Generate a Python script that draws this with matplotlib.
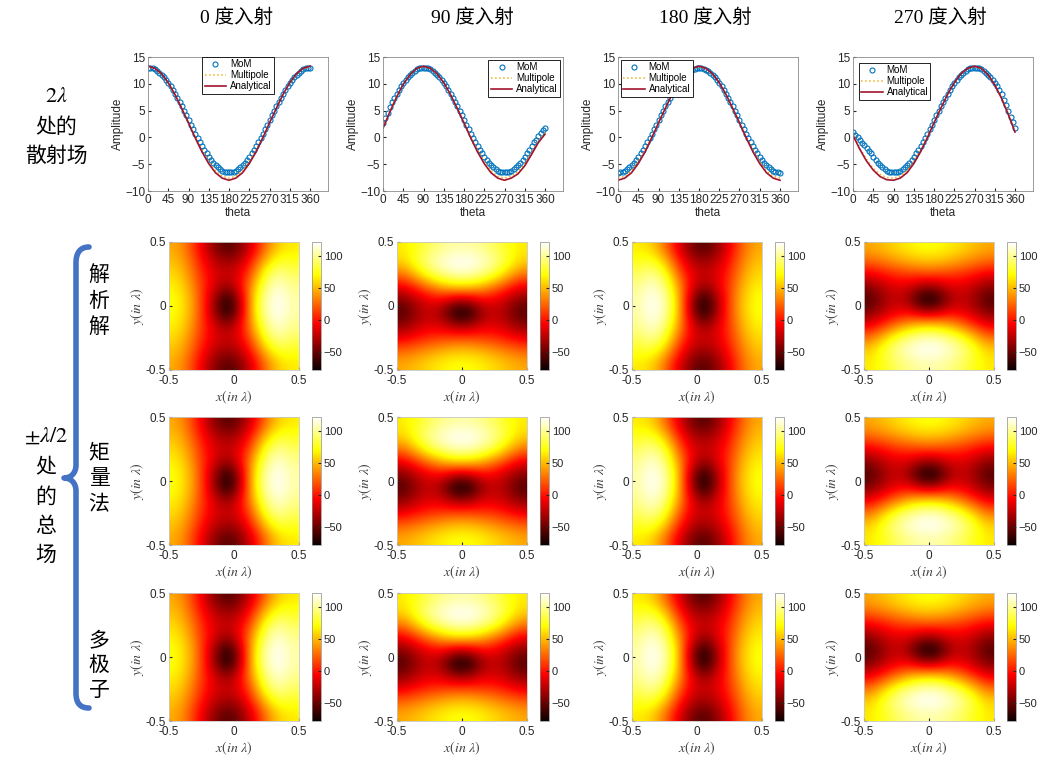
import numpy as np
import matplotlib
matplotlib.use("Agg")
import matplotlib.pyplot as plt
from matplotlib.path import Path
from matplotlib.patches import PathPatch

plt.rcParams["font.family"] = ["Liberation Sans", "Noto Sans CJK SC"]
plt.rcParams["mathtext.fontset"] = "stix"

# ---------------- data ----------------
INCIDENCE = ["0", "90", "180", "270"]
ROW_NAMES = ["解析解", "矩量法", "多极子"]

THETA_MOM = np.arange(0, 361, 5)
THETA_LINE = np.arange(0, 361, 15)

MOM_0 = [13.0, 13.0, 12.9, 12.7, 12.4, 12.1, 11.7, 11.2, 10.7, 10.1, 9.5, 8.8, 8.1, 7.4, 6.6, 5.8, 4.9, 4.1, 3.2,
         2.4, 1.6, 0.7, -0.1, -0.9, -1.6, -2.3, -3.0, -3.6, -4.2, -4.7, -5.2, -5.6, -5.9, -6.2, -6.4, -6.5, -6.5,
         -6.5, -6.4, -6.2, -5.9, -5.6, -5.2, -4.7, -4.2, -3.6, -3.0, -2.3, -1.6, -0.9, -0.1, 0.7, 1.6, 2.4, 3.2,
         4.1, 4.9, 5.8, 6.6, 7.4, 8.1, 8.8, 9.5, 10.1, 10.7, 11.2, 11.7, 12.1, 12.4, 12.7, 12.9, 13.0, 13.0]
MOM_90 = [2.6, 3.6, 4.6, 5.6, 6.6, 7.4, 8.1, 8.8, 9.5, 10.1, 10.7, 11.2, 11.7, 12.1, 12.4, 12.7, 12.9, 13.0, 13.0,
          13.0, 12.9, 12.7, 12.4, 12.1, 11.7, 11.2, 10.7, 10.1, 9.5, 8.8, 8.1, 7.4, 6.6, 5.8, 4.9, 4.1, 3.2,
          2.4, 1.6, 0.7, -0.1, -0.9, -1.6, -2.3, -3.0, -3.6, -4.2, -4.7, -5.2, -5.6, -5.9, -6.2, -6.4, -6.5, -6.5,
          -6.5, -6.4, -6.2, -5.9, -5.6, -5.2, -4.7, -4.2, -3.6, -3.0, -2.3, -1.6, -0.9, -0.4, 0.2, 0.8, 1.3, 1.8]
MOM_180 = [-6.6, -6.5, -6.4, -6.2, -5.9, -5.6, -5.2, -4.7, -4.2, -3.6, -3.0, -2.3, -1.6, -0.9, -0.1, 0.7, 1.6, 2.4,
           3.2, 4.1, 4.9, 5.8, 6.6, 7.4, 8.1, 8.8, 9.5, 10.1, 10.7, 11.2, 11.7, 12.1, 12.4, 12.6, 12.8, 12.9, 12.9,
           12.9, 12.8, 12.6, 12.4, 12.1, 11.7, 11.2, 10.7, 10.1, 9.5, 8.8, 8.1, 7.4, 6.6, 5.8, 4.9, 4.1, 3.2,
           2.4, 1.6, 0.7, -0.1, -0.9, -1.6, -2.3, -3.0, -3.6, -4.2, -4.7, -5.2, -5.6, -5.9, -6.2, -6.4, -6.5, -6.6]
MOM_270 = [1.0, 0.5, 0.0, -0.5, -1.0, -1.5, -2.0, -2.5, -3.0, -3.6, -4.2, -4.7, -5.2, -5.6, -5.9, -6.2, -6.4, -6.5,
           -6.5, -6.5, -6.4, -6.2, -5.9, -5.6, -5.2, -4.7, -4.2, -3.6, -3.0, -2.3, -1.6, -0.9, -0.1, 0.7, 1.6, 2.4,
           3.2, 4.1, 4.9, 5.8, 6.6, 7.4, 8.1, 8.8, 9.5, 10.1, 10.7, 11.2, 11.7, 12.1, 12.4, 12.7, 12.9, 13.0, 13.0,
           13.0, 12.9, 12.7, 12.4, 12.1, 11.7, 11.2, 10.7, 10.1, 9.5, 8.8, 8.1, 7.0, 6.0, 4.9, 3.8, 2.8, 1.8]

ANA_0 = [13.3, 12.9, 11.9, 10.2, 8.0, 5.4, 2.7, -0.1, -2.7, -4.9, -6.6, -7.6, -8.0,
         -7.6, -6.6, -4.9, -2.7, -0.1, 2.7, 5.4, 8.0, 10.2, 11.9, 12.9, 13.3]
ANA_90 = [1.7, 4.7, 7.5, 9.9, 11.7, 12.9, 13.3, 12.9, 11.9, 10.2, 8.0, 5.4, 2.7,
          -0.1, -2.7, -4.9, -6.6, -7.6, -8.0, -7.6, -6.8, -5.3, -3.2, -1.0, 0.6]
ANA_180 = [-8.0, -7.6, -6.6, -4.9, -2.7, -0.1, 2.7, 5.4, 8.0, 10.2, 11.9, 12.9, 13.3,
           12.9, 11.9, 10.2, 8.0, 5.4, 2.7, -0.1, -2.7, -4.9, -6.6, -7.6, -8.0]
ANA_270 = [0.4, -2.2, -4.4, -6.1, -7.3, -7.9, -8.0, -7.6, -6.6, -4.9, -2.7, -0.1, 2.7,
           5.4, 8.0, 10.2, 11.9, 12.9, 13.3, 12.9, 11.7, 9.8, 7.3, 4.3, 1.0]

MULTI_0 = [13.2, 12.85, 11.8, 10.15, 8.0, 5.5, 2.8, 0.1, -2.4, -4.55, -6.2, -7.25, -7.6,
           -7.25, -6.2, -4.55, -2.4, 0.1, 2.8, 5.5, 8.0, 10.15, 11.8, 12.85, 13.2]
MULTI_90 = [1.9, 4.8, 7.6, 9.9, 11.7, 12.85, 13.2, 12.85, 11.8, 10.15, 8.0, 5.5, 2.8,
            0.1, -2.4, -4.55, -6.2, -7.25, -7.6, -7.25, -6.4, -4.9, -2.9, -0.7, 0.9]
MULTI_180 = [-7.6, -7.25, -6.2, -4.55, -2.4, 0.1, 2.8, 5.5, 8.0, 10.15, 11.8, 12.85, 13.2,
             12.85, 11.8, 10.15, 8.0, 5.5, 2.8, 0.1, -2.4, -4.55, -6.2, -7.25, -7.6]
MULTI_270 = [0.6, -2.0, -4.1, -5.8, -6.9, -7.5, -7.6, -7.25, -6.2, -4.55, -2.4, 0.1, 2.8,
             5.5, 8.0, 10.15, 11.8, 12.85, 13.2, 12.85, 11.6, 9.8, 7.4, 4.5, 1.3]

MOM = [MOM_0, MOM_90, MOM_180, MOM_270]
ANA = [ANA_0, ANA_90, ANA_180, ANA_270]
MULTI = [MULTI_0, MULTI_90, MULTI_180, MULTI_270]

# total field on a 10x10 cell grid, rows y=+0.45 -> -0.45, cols x=-0.45 -> +0.45
FIELD_0 = [
    [45, 25, -10, -40, -58, -42, -10, 30, 58, 65],
    [52, 32, 0, -25, -35, -25, 10, 55, 80, 75],
    [60, 40, 8, -15, -22, -10, 30, 82, 100, 88],
    [67, 48, 12, -18, -38, -8, 48, 98, 113, 98],
    [72, 53, 15, -35, -78, -25, 58, 108, 120, 103],
    [72, 53, 15, -35, -78, -25, 58, 108, 120, 103],
    [67, 48, 12, -18, -38, -8, 48, 98, 113, 98],
    [60, 40, 8, -15, -22, -10, 30, 82, 100, 88],
    [52, 32, 0, -25, -35, -25, 10, 55, 80, 75],
    [45, 25, -10, -40, -58, -42, -10, 30, 58, 65],
]
FIELD_90 = [
    [65, 75, 88, 98, 103, 103, 98, 88, 75, 65],
    [58, 80, 100, 113, 120, 120, 113, 100, 80, 58],
    [30, 55, 82, 98, 108, 108, 98, 82, 55, 30],
    [-10, 10, 30, 48, 58, 58, 48, 30, 10, -10],
    [-42, -25, -10, -8, -25, -25, -8, -10, -25, -42],
    [-58, -35, -22, -38, -78, -78, -38, -22, -35, -58],
    [-40, -25, -15, -18, -35, -35, -18, -15, -25, -40],
    [-10, 0, 8, 12, 15, 15, 12, 8, 0, -10],
    [25, 32, 40, 48, 53, 53, 48, 40, 32, 25],
    [45, 52, 60, 67, 72, 72, 67, 60, 52, 45],
]
FIELD_180 = [
    [65, 58, 30, -10, -42, -58, -40, -10, 25, 45],
    [75, 80, 55, 10, -25, -35, -25, 0, 32, 52],
    [88, 100, 82, 30, -10, -22, -15, 8, 40, 60],
    [98, 113, 98, 48, -8, -38, -18, 12, 48, 67],
    [103, 120, 108, 58, -25, -78, -35, 15, 53, 72],
    [103, 120, 108, 58, -25, -78, -35, 15, 53, 72],
    [98, 113, 98, 48, -8, -38, -18, 12, 48, 67],
    [88, 100, 82, 30, -10, -22, -15, 8, 40, 60],
    [75, 80, 55, 10, -25, -35, -25, 0, 32, 52],
    [65, 58, 30, -10, -42, -58, -40, -10, 25, 45],
]
FIELD_270 = [
    [45, 52, 60, 67, 72, 72, 67, 60, 52, 45],
    [25, 32, 40, 48, 53, 53, 48, 40, 32, 25],
    [-10, 0, 8, 12, 15, 15, 12, 8, 0, -10],
    [-40, -25, -15, -18, -35, -35, -18, -15, -25, -40],
    [-58, -35, -22, -38, -78, -78, -38, -22, -35, -58],
    [-42, -25, -10, -8, -25, -25, -8, -10, -25, -42],
    [-10, 10, 30, 48, 58, 58, 48, 30, 10, -10],
    [30, 55, 82, 98, 108, 108, 98, 82, 55, 30],
    [58, 80, 100, 113, 120, 120, 113, 100, 80, 58],
    [65, 75, 88, 98, 103, 103, 98, 88, 75, 65],
]
FIELDS = [FIELD_0, FIELD_90, FIELD_180, FIELD_270]

# ---------------- layout (pixels) ----------------
W, H = 1040, 764
LINE_LEFT = [148, 383, 618, 853]
LINE_TOP, LINE_BOT, LINE_W = 57, 191, 180
MAP_LEFT = [169, 397, 632, 864]
MAP_TOP = [242, 417, 593]
MAP_W, MAP_H = 130, 128
LEGEND_LOC = [("upper center", (0.5, 1.0), 0.0), ("upper right", (1.0, 1.0), 0.3),
              ("upper left", (0.0, 1.0), 0.3), ("upper left", (0.0, 1.0), 0.6)]


def px(left, top, w, h):
    return [left / W, 1 - (top + h) / H, w / W, h / H]


fig = plt.figure(figsize=(W / 100, H / 100), dpi=100)
GRAY = "#8c8c8c"
TXT = "#262626"

for c in range(4):
    ax = fig.add_axes(px(LINE_LEFT[c], LINE_TOP, LINE_W, LINE_BOT - LINE_TOP))
    ax.plot(THETA_MOM, MOM[c], "o", mfc="none", mec="#0072BD", ms=3.6, mew=0.8, label="MoM")
    ax.plot(THETA_LINE, MULTI[c], ":", color="#EDB120", lw=1.1, label="Multipole")
    ax.plot(THETA_LINE, ANA[c], "-", color="#A2142F", lw=1.2, label="Analytical")
    ax.set_xlim(0, 400)
    ax.set_ylim(-10, 15)
    ax.set_xticks(np.arange(0, 361, 45))
    ax.set_yticks([-10, -5, 0, 5, 10, 15])
    ax.tick_params(direction="in", length=2.5, labelsize=8.5, colors=TXT, pad=2)
    for s in ax.spines.values():
        s.set_color(GRAY)
        s.set_linewidth(0.6)
    ax.set_xlabel("theta", fontsize=8.5, color=TXT, labelpad=1)
    ax.set_ylabel("Amplitude", fontsize=8.5, color=TXT, labelpad=1)
    loc, anchor, pad = LEGEND_LOC[c]
    leg = ax.legend(loc=loc, bbox_to_anchor=anchor, borderaxespad=pad, fontsize=7,
                    fancybox=False, edgecolor="black", framealpha=1, handlelength=2.2,
                    labelspacing=0.1, borderpad=0.25, handletextpad=0.4)
    leg.get_frame().set_linewidth(0.6)

for r in range(3):
    for c in range(4):
        ax = fig.add_axes(px(MAP_LEFT[c], MAP_TOP[r], MAP_W, MAP_H))
        im = ax.imshow(np.array(FIELDS[c], dtype=float), cmap="hot", vmin=-78, vmax=121,
                       extent=[-0.5, 0.5, -0.5, 0.5], origin="upper", aspect="auto",
                       interpolation="bicubic")
        ax.set_xticks([-0.5, 0, 0.5])
        ax.set_yticks([-0.5, 0, 0.5])
        ax.set_xticklabels(["-0.5", "0", "0.5"])
        ax.set_yticklabels(["-0.5", "0", "0.5"])
        ax.tick_params(direction="in", length=2, labelsize=8.5, colors=TXT)
        ax.tick_params(axis="x", pad=3.5)
        ax.tick_params(axis="y", pad=2)
        for s in ax.spines.values():
            s.set_color("#c8c8c8")
            s.set_linewidth(0.6)
        ax.set_xlabel(r"$x(in\ \lambda)$", fontsize=10, color="#404040", labelpad=1)
        ax.set_ylabel(r"$y(in\ \lambda)$", fontsize=10, color="#404040", labelpad=0)
        cax = fig.add_axes(px(MAP_LEFT[c] + 143, MAP_TOP[r], 9, MAP_H))
        cb = fig.colorbar(im, cax=cax, ticks=[-50, 0, 50, 100])
        cb.ax.tick_params(direction="in", length=2, labelsize=8, colors=TXT, pad=2)
        cb.outline.set_linewidth(0.5)
        cb.outline.set_edgecolor(GRAY)

# column titles
TITLE_X = [237, 472, 705, 940]
for c in range(4):
    fig.text(TITLE_X[c] / W, 1 - 18 / H, INCIDENCE[c] + " 度入射", ha="center", va="center",
             fontsize=14, family=["Liberation Serif", "Noto Sans CJK SC"])


def put(x, y, s, size=15):
    fig.text(x / W, 1 - y / H, s, ha="center", va="center", fontsize=size,
             family=["Noto Sans CJK SC", "DejaVu Sans"])


fig.text(56 / W, 1 - 97 / H, r"$2\lambda$", ha="center", va="center", fontsize=16)
put(56, 127, "处的")
put(56, 156, "散射场")

fig.text(46 / W, 1 - 436 / H, r"$\pm\lambda/2$", ha="center", va="center", fontsize=16)
for ch, y in zip("处的总场", [467, 497, 526, 555]):
    put(46, y, ch)

STACK_Y = [[275, 301, 327], [452, 478, 504], [640, 665, 690]]
for name, ys in zip(ROW_NAMES, STACK_Y):
    for ch, y in zip(name, ys):
        put(99, y, ch)

# curly brace
pts = [(89, 247), (80, 247), (76, 253), (76, 263),
       (76, 465),
       (76, 473), (71, 478), (64, 478),
       (71, 478), (76, 483), (76, 491),
       (76, 693),
       (76, 703), (80, 708), (89, 708)]
codes = [Path.MOVETO, Path.CURVE4, Path.CURVE4, Path.CURVE4,
         Path.LINETO,
         Path.CURVE4, Path.CURVE4, Path.CURVE4,
         Path.CURVE4, Path.CURVE4, Path.CURVE4,
         Path.LINETO,
         Path.CURVE4, Path.CURVE4, Path.CURVE4]
verts = [(x / W, 1 - y / H) for x, y in pts]
fig.add_artist(PathPatch(Path(verts, codes), transform=fig.transFigure, fill=False,
                         edgecolor="#4472C4", lw=4, capstyle="round", joinstyle="round"))

fig.savefig("out.png", dpi=100)
